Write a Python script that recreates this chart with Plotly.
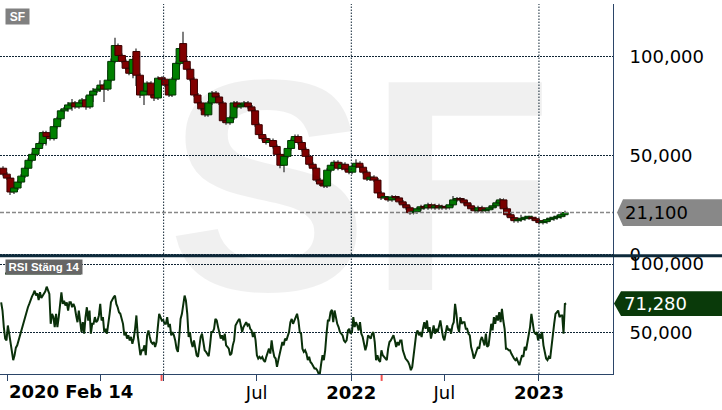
import plotly.graph_objects as go
import pandas as pd

# weekly candles (SEK)
open_ = [43.5, 40.5, 38.5, 31.5, 33.5, 36.5, 39.5, 43.5, 47.5, 50.5,
         53.5, 56.0, 61.5, 59.5, 58.5, 64.5, 68.5, 72.5, 73.5, 75.5,
         76.5, 74.5, 76.5, 78.0, 74.5, 80.5, 82.5, 83.5, 85.5, 83.5,
         88.0, 97.5, 105.5, 100.5, 97.5, 94.0, 91.5, 102.5, 90.5, 80.5,
         82.5, 86.5, 80.5, 79.0, 89.0, 88.5, 85.5, 80.5, 88.5, 96.5,
         106.5, 97.5, 93.5, 88.5, 80.5, 76.5, 73.5, 70.5, 76.5, 81.5,
         79.5, 76.5, 67.5, 66.5, 69.0, 76.5, 74.5, 75.5, 76.5, 74.5,
         72.5, 65.5, 60.5, 58.5, 56.5, 57.5, 54.5, 50.5, 45.0, 49.5,
         53.5, 57.5, 59.5, 56.5, 53.0, 49.5, 45.5, 43.5, 37.5, 35.5,
         34.5, 42.5, 45.0, 46.5, 43.5, 45.5, 43.0, 41.5, 44.5, 46.0,
         44.0, 41.5, 38.0, 39.0, 37.5, 31.0, 28.5, 28.5, 27.5, 29.0,
         28.5, 26.5, 25.0, 23.5, 21.0, 21.5, 23.0, 24.0, 23.5, 25.0,
         23.5, 24.5, 23.5, 24.0, 23.5, 25.0, 27.5, 28.0, 27.5, 26.0,
         24.5, 23.0, 22.0, 23.5, 22.0, 22.5, 23.5, 24.5, 26.0, 27.5,
         23.0, 20.0, 18.5, 17.0, 17.5, 18.0, 18.5, 18.5, 18.0, 17.0,
         16.0, 16.5, 17.5, 18.0, 18.5, 19.0, 20.0]
high = [44.5, 41.5, 39.5, 34.5, 37.5, 40.5, 44.5, 48.5, 51.5, 54.5,
        57.0, 62.5, 62.5, 60.5, 65.5, 69.5, 73.5, 74.5, 77.0, 78.5,
        77.5, 77.5, 79.0, 80.0, 82.0, 84.0, 84.5, 88.0, 86.5, 93.0,
        99.0, 109.5, 106.5, 101.5, 98.5, 95.0, 99.5, 104.0, 91.5, 83.5,
        87.5, 87.5, 81.5, 90.0, 90.0, 89.5, 86.5, 89.5, 97.5, 105.0,
        112.5, 98.5, 94.5, 89.5, 81.5, 77.5, 74.5, 77.5, 82.5, 82.5,
        80.5, 77.5, 68.5, 70.0, 77.5, 77.5, 76.5, 77.5, 77.5, 75.5,
        73.5, 66.5, 62.0, 59.5, 58.5, 58.5, 55.5, 51.5, 50.5, 54.5,
        58.5, 60.5, 60.5, 57.5, 54.0, 50.5, 46.5, 44.5, 38.5, 36.5,
        43.5, 46.0, 47.5, 47.5, 46.5, 46.5, 44.0, 45.5, 48.0, 47.0,
        45.0, 42.5, 40.0, 40.0, 38.5, 32.0, 29.5, 29.5, 30.0, 30.0,
        29.5, 27.5, 26.0, 24.5, 22.5, 24.0, 25.0, 25.0, 26.0, 26.0,
        25.5, 25.5, 25.0, 25.0, 26.0, 29.5, 29.0, 29.0, 28.5, 27.0,
        25.5, 24.0, 24.5, 24.5, 23.5, 24.5, 25.5, 27.0, 28.5, 28.5,
        24.0, 21.0, 19.5, 18.5, 20.0, 19.5, 19.5, 19.5, 19.0, 18.0,
        17.5, 18.5, 19.0, 19.5, 20.0, 21.0, 22.0]
low = [39.5, 37.5, 30.0, 30.5, 32.5, 35.5, 38.5, 42.5, 46.5, 49.5,
       52.5, 55.0, 55.0, 57.5, 57.5, 63.5, 67.5, 71.0, 72.0, 72.5,
       73.5, 73.5, 75.5, 73.0, 73.5, 77.0, 81.5, 82.0, 77.0, 82.5,
       87.0, 96.5, 99.5, 96.5, 93.0, 90.5, 89.0, 85.0, 79.0, 75.5,
       81.5, 79.5, 77.5, 78.0, 87.5, 84.5, 79.5, 79.5, 87.5, 95.5,
       96.5, 92.5, 87.5, 79.5, 75.5, 72.5, 69.5, 69.5, 75.5, 78.5,
       75.5, 66.5, 65.5, 65.5, 68.0, 73.5, 73.5, 74.5, 73.5, 71.5,
       64.5, 59.5, 57.5, 55.5, 55.5, 53.5, 49.5, 43.5, 41.5, 48.5,
       52.5, 56.5, 55.5, 52.0, 48.5, 44.5, 42.5, 36.5, 34.5, 33.5,
       33.5, 41.5, 44.0, 42.5, 42.5, 42.0, 40.5, 40.5, 43.5, 43.0,
       40.5, 37.0, 37.0, 36.5, 30.0, 27.5, 27.5, 26.5, 26.5, 27.5,
       25.5, 24.0, 22.5, 20.0, 20.0, 20.5, 22.0, 22.5, 22.5, 22.5,
       22.5, 22.5, 22.5, 22.5, 22.5, 24.0, 26.5, 26.5, 25.0, 23.5,
       22.0, 21.0, 21.0, 21.0, 21.0, 21.5, 22.5, 23.5, 25.0, 22.0,
       19.0, 17.5, 16.0, 16.0, 16.5, 17.0, 17.5, 17.0, 16.0, 15.0,
       15.0, 15.5, 16.5, 17.0, 17.5, 18.0, 19.0]
close = [40.5, 38.5, 31.5, 33.5, 36.5, 39.5, 43.5, 47.5, 50.5, 53.5,
         56.0, 61.5, 59.5, 58.5, 64.5, 68.5, 72.5, 73.5, 75.5, 76.5,
         74.5, 76.5, 78.0, 74.5, 80.5, 82.5, 83.5, 85.5, 83.5, 88.0,
         97.5, 105.5, 100.5, 97.5, 94.0, 91.5, 98.5, 90.5, 80.5, 82.5,
         86.5, 80.5, 79.0, 89.0, 88.5, 85.5, 80.5, 88.5, 96.5, 104.0,
         97.5, 93.5, 88.5, 80.5, 76.5, 73.5, 70.5, 76.5, 81.5, 79.5,
         76.5, 67.5, 66.5, 69.0, 76.5, 74.5, 75.5, 76.5, 74.5, 72.5,
         65.5, 60.5, 58.5, 56.5, 57.5, 54.5, 50.5, 45.0, 49.5, 53.5,
         57.5, 59.5, 56.5, 53.0, 49.5, 45.5, 43.5, 37.5, 35.5, 34.5,
         42.5, 45.0, 46.5, 43.5, 45.5, 43.0, 41.5, 44.5, 46.0, 44.0,
         41.5, 38.0, 39.0, 37.5, 31.0, 28.5, 28.5, 27.5, 29.0, 28.5,
         26.5, 25.0, 23.5, 21.0, 21.5, 23.0, 24.0, 23.5, 25.0, 23.5,
         24.5, 23.5, 24.0, 23.5, 25.0, 27.5, 28.0, 27.5, 26.0, 24.5,
         23.0, 22.0, 23.5, 22.0, 22.5, 23.5, 24.5, 26.0, 27.5, 23.0,
         20.0, 18.5, 17.0, 17.5, 18.0, 18.5, 18.5, 18.0, 17.0, 16.0,
         16.5, 17.5, 18.0, 18.5, 19.0, 20.0, 21.1]

# RSI (close, 14)
rsi = [72.2, 66.2, 54.1, 45.7, 44.4, 55.3, 49.3, 43.2, 38.4, 30.0,
       33.6, 39.1, 40.8, 44.4, 46.9, 50.5, 55.3, 58.9, 61.4, 65.0,
       68.6, 71.0, 74.6, 76.3, 78.3, 80.7, 77.1, 78.7, 73.9, 79.5,
       75.4, 77.1, 78.3, 80.2, 83.6, 80.7, 78.3, 56.5, 63.8, 61.4,
       54.1, 63.8, 54.1, 61.4, 71.0, 79.5, 71.0, 73.4, 69.8, 72.2,
       66.2, 72.2, 72.2, 68.6, 71.0, 68.6, 62.6, 57.7, 66.2, 56.5,
       50.5, 57.7, 49.3, 61.4, 68.6, 58.9, 66.2, 49.3, 56.5, 56.5,
       61.4, 57.7, 58.9, 62.6, 71.0, 58.9, 61.4, 50.5, 52.9, 49.3,
       58.9, 63.8, 72.2, 74.6, 75.8, 77.1, 71.0, 68.6, 65.0, 63.8,
       60.1, 56.5, 48.1, 50.5, 45.7, 48.1, 44.4, 46.9, 42.0, 45.7,
       52.9, 62.6, 48.1, 39.6, 33.6, 37.2, 37.2, 40.8, 33.6, 48.1,
       51.7, 46.9, 43.2, 42.0, 43.2, 39.6, 43.2, 54.1, 63.8, 61.4,
       58.9, 59.4, 56.5, 56.5, 61.4, 54.1, 56.5, 48.1, 50.5, 48.1,
       44.4, 38.4, 36.0, 46.9, 60.1, 63.8, 71.0, 77.1, 73.4, 63.8,
       46.9, 50.5,
       43.2, 39.6, 44.4, 37.2, 33.6, 32.4, 42.0, 46.9, 49.3, 42.0,
       37.2, 36.0, 34.8, 32.9, 40.8, 50.5, 50.5, 52.9, 60.1, 58.9,
       54.1, 49.3, 45.7, 48.1, 44.4, 49.3, 40.8, 39.6, 38.4, 33.6,
       34.8, 40.8, 44.4, 55.3, 57.7, 58.9, 60.1, 54.1, 50.5, 54.1,
       56.5, 57.7, 55.3, 56.5, 52.9, 51.7, 46.9, 50.5, 44.4, 33.6,
       31.2, 32.4, 31.2, 32.4, 30.0, 28.7, 32.4, 36.0, 38.4, 34.8,
       44.4, 37.2, 32.4, 31.2, 25.1, 30.0, 34.8, 38.4, 43.2, 40.8,
       45.7, 44.4, 48.1, 50.5, 57.7, 60.1, 56.5, 58.9, 62.6, 63.8,
       58.9, 50.5, 49.3, 38.4, 36.0, 37.2, 34.8, 30.0, 32.4, 28.7,
       27.5, 25.1, 23.9, 23.9, 22.7, 20.3, 20.0, 27.5, 33.6, 30.0,
       37.2, 49.3, 58.9, 58.9, 65.0, 66.7, 57.7, 66.2, 60.1, 56.5,
       54.1, 50.5, 49.3, 48.1, 44.4, 43.2, 44.4, 51.7, 52.9, 49.3,
       50.5, 61.4, 54.1, 57.7, 55.3, 51.7, 57.7, 49.3, 46.9, 42.0,
       37.2, 40.8, 48.1, 46.9, 45.7, 49.3, 50.5, 43.2, 30.0, 33.6,
       30.0, 28.7,
       37.2, 33.6, 32.4, 31.2, 30.0, 38.4, 43.2, 44.4, 46.9, 48.1,
       44.4, 39.6, 43.2, 40.8, 44.4, 44.4, 37.2, 33.6, 31.2, 30.0,
       28.7, 26.3, 22.7, 25.1, 33.6, 38.4, 49.3, 51.7, 48.1, 50.5,
       46.9, 52.9, 57.7, 52.9, 58.9, 50.5, 54.1, 45.7, 51.7, 55.3,
       49.3, 52.9, 50.5, 54.1, 58.9, 52.9, 46.9, 44.4, 51.7, 55.3,
       51.7, 52.9, 49.3, 55.3, 57.7, 71.0, 63.8, 54.1, 50.5, 61.4,
       56.5, 57.7, 57.7, 52.9, 52.9, 49.3, 48.1, 39.6, 36.0, 31.2,
       33.6, 37.2, 39.6, 38.4, 44.4, 46.9, 43.2, 40.8, 49.3, 39.6,
       40.8, 48.1, 56.5, 51.7, 61.4, 56.5, 62.6, 58.9, 65.0, 57.7,
       67.4, 58.9, 52.9, 38.4, 38.4, 37.2, 37.2, 34.8, 32.4, 31.2,
       30.0, 31.2, 28.7, 26.3, 30.0, 33.6, 32.4, 39.6, 37.2, 42.0,
       48.1, 54.1, 63.8, 55.3, 50.5, 49.3, 50.5, 44.4, 49.3, 45.7,
       50.5, 40.8, 36.0, 31.2, 30.0, 32.4, 31.2, 40.8, 49.3, 56.5,
       63.8, 65.0, 66.2, 61.4, 62.6, 62.6, 49.3, 71.0, 71.28]

tick_dates = ["2020-03-04", "2020-09-01", "2021-01-01", "2021-07-01",
              "2022-01-01", "2022-07-01", "2023-01-01"]
tick_text = ["", "", "", "Jul", "<b>2022</b>", "Jul", "<b>2023</b>"]
year_lines = ["2021-01-01", "2022-01-01", "2023-01-01"]
event_dates = ["2020-12-28", "2022-03-01"]

weeks = pd.date_range("2020-02-24", periods=len(close), freq="7D")
rsi_days = pd.date_range("2020-02-20", "2023-02-23", periods=len(rsi))

# pixel helpers (plot area is 613 x 374 px)
PW, PH = 613.0, 374.0
def px(x):
    return x / PW
def py(y):
    return (PH - y) / PH

DAY = 86400000
GRID = "#102535"
FRAME = "#2b4568"

body_base = [min(o, c) for o, c in zip(open_, close)]
body_h = [max(abs(c - o), 0.7) for o, c in zip(open_, close)]
body_col = ["#008000" if c >= o else "#800000" for o, c in zip(open_, close)]
edge_col = ["#003300" if c >= o else "#3a0000" for o, c in zip(open_, close)]

fig = go.Figure()
# wicks
fig.add_trace(go.Bar(x=weeks, base=low, y=[h - l for h, l in zip(high, low)],
                     width=1.9 * DAY, marker=dict(color="#808080", line=dict(width=0)),
                     hoverinfo="skip"))
# bodies
fig.add_trace(go.Bar(x=weeks, base=body_base, y=body_h, width=13.5 * DAY,
                     marker=dict(color=body_col, line=dict(color=edge_col, width=1))))
fig.add_trace(go.Scatter(x=rsi_days, y=rsi, yaxis="y2", mode="lines",
                         line=dict(color="#0a300a", width=2)))

fig.update_layout(
    width=722, height=410,
    margin=dict(l=0, r=109, t=0, b=36),
    paper_bgcolor="white", plot_bgcolor="white",
    showlegend=False, barmode="overlay", separators=", ",
    font=dict(family="DejaVu Sans", size=18, color="black"),
    xaxis=dict(type="date", range=["2020-02-17 18:00", "2023-05-25"], anchor="y2",
               showgrid=False, zeroline=False, showline=True, linecolor=FRAME,
               linewidth=1, ticks="outside", ticklen=6, tickcolor=FRAME,
               tickvals=tick_dates, ticktext=tick_text, ticklabelstandoff=-4),
    yaxis=dict(domain=[py(255), 1], range=[-1, 126.5], side="right", anchor="x",
               showline=True, linecolor=FRAME, zeroline=False, ticks="",
               tickvals=[0, 50, 100], ticktext=["0", "50,000", "100,000"],
               showgrid=True, gridcolor=GRID, griddash="1.5px,1.5px",
               ticklabelstandoff=12),
    yaxis2=dict(domain=[0, py(256)], range=[19.9, 105.05], side="right", anchor="x",
                showline=True, linecolor=FRAME, zeroline=False, ticks="",
                tickvals=[50, 100], tickformat=".3f",
                showgrid=True, gridcolor=GRID, griddash="1.5px,1.5px",
                ticklabelstandoff=12),
)

shapes = []
for d in year_lines:
    shapes.append(dict(type="line", xref="x", yref="paper", x0=d, x1=d, y0=0, y1=1,
                       line=dict(color=GRID, width=1, dash="1.5px,1.5px")))
for d in event_dates:
    shapes.append(dict(type="line", xref="x", yref="paper", x0=d, x1=d,
                       y0=py(375), y1=py(381), line=dict(color="#f05050", width=2)))
last = close[-1]
last_rsi = rsi[-1]
# last price line
shapes.append(dict(type="line", xref="paper", yref="y", x0=0, x1=1, y0=last, y1=last,
                   line=dict(color="#888888", width=1.5, dash="4px,2px")))
# panel separator
shapes.append(dict(type="line", xref="paper", yref="paper", x0=0, x1=px(722),
                   y0=py(254.5), y1=py(254.5), line=dict(color="#0d2a3b", width=3)))
# value tags on the right
shapes.append(dict(type="path", xref="paper", yref="y", fillcolor="#888888", line=dict(width=0),
                   path="M %f,%f L %f,%f L %f,%f L %f,%f L %f,%f Z" % (
                       px(617), last, px(623), last + 6.75, px(722), last + 6.75,
                       px(722), last - 6.75, px(623), last - 6.75)))
shapes.append(dict(type="path", xref="paper", yref="y2", fillcolor="#0a3a0a", line=dict(width=0),
                   path="M %f,%f L %f,%f L %f,%f L %f,%f L %f,%f Z" % (
                       px(614), last_rsi, px(621), last_rsi + 9, px(722), last_rsi + 9,
                       px(722), last_rsi - 9, px(621), last_rsi - 9)))
# underline of the RSI caption
shapes.append(dict(type="line", xref="paper", yref="paper", x0=px(5), x1=px(81),
                   y0=py(272.5), y1=py(272.5), line=dict(color="#0a3a0a", width=2)))
fig.update_layout(shapes=shapes)

annotations = [
    # watermark
    dict(text="<b>SF</b>", xref="paper", yref="paper", x=px(360), y=py(183),
         xanchor="center", yanchor="middle", showarrow=False,
         font=dict(family="Liberation Sans", size=302, color="rgba(0,0,0,0.06)")),
    dict(text="<b>SF</b>", xref="paper", yref="paper", x=px(5), y=py(4),
         xanchor="left", yanchor="top", showarrow=False, bgcolor="#808080",
         width=23, height=15, borderpad=0,
         font=dict(family="Liberation Sans", size=12, color="white")),
    dict(text="<b>RSI Stäng 14</b>", xref="paper", yref="paper", x=px(5), y=py(258),
         xanchor="left", yanchor="top", showarrow=False, bgcolor="#666666",
         width=76, height=14, borderpad=0,
         font=dict(family="Liberation Sans", size=11.5, color="white")),
    dict(text="<b>2020 Feb 14</b>", xref="x", yref="paper", x=tick_dates[0], y=py(392),
         xanchor="left", yanchor="middle", xshift=-1, showarrow=False,
         font=dict(family="DejaVu Sans", size=18, color="black")),
    dict(text=("%.3f" % last).replace(".", ","), xref="paper", yref="y", x=px(623), y=last,
         xanchor="left", yanchor="middle", showarrow=False,
         font=dict(family="DejaVu Sans", size=18, color="black")),
    dict(text=("%.3f" % last_rsi).replace(".", ","), xref="paper", yref="y2", x=px(622),
         y=last_rsi, xanchor="left", yanchor="middle", showarrow=False,
         font=dict(family="DejaVu Sans", size=18, color="white")),
]
fig.update_layout(annotations=annotations)

# the page body has a default 8px margin; drop it so the chart sits at 0,0
fig.write_html("out.html", config={"displayModeBar": False},
               post_script="document.body.style.margin='0px';")
